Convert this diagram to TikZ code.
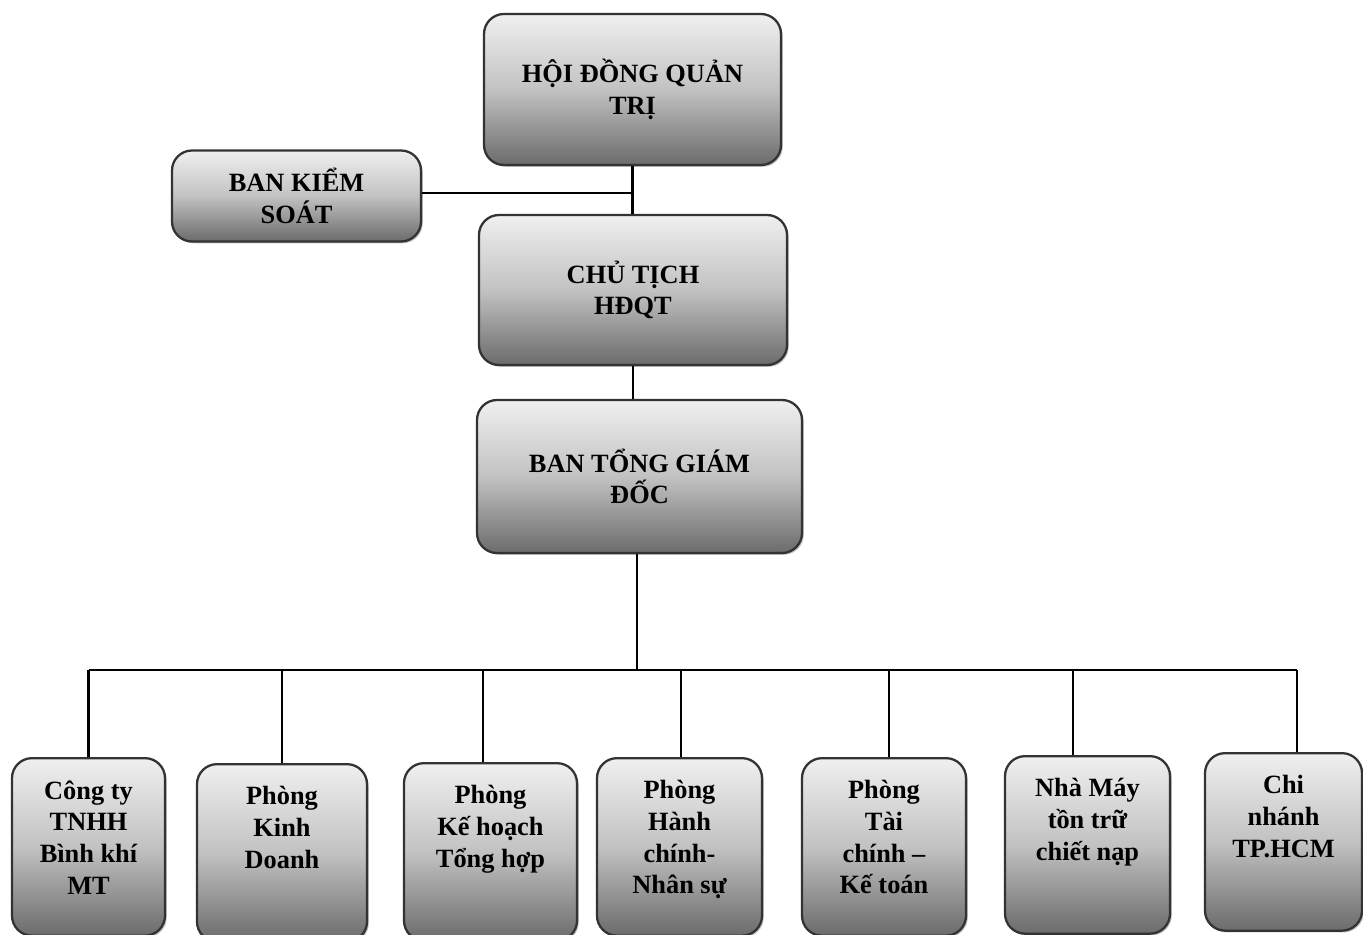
\documentclass[tikz,border=0pt]{standalone}
\usepackage{fontspec}
\setmainfont{Liberation Serif}
\usetikzlibrary{shadows}
\colorlet{box line}{black!80}
\tikzset{wire/.style={line width=1.4pt}}
\tikzset{box/.style={draw=box line, line width=1.3pt, rounded corners=0.4cm, top color=black!6, bottom color=black!58, middle color=black!24, drop shadow={shadow xshift=1pt, shadow yshift=-1pt, opacity=0.5}, font=\fontsize{15}{18}\selectfont\bfseries, align=center}}
\tikzset{unit/.style={box, anchor=north, inner xsep=0pt, inner ysep=0.45cm}}
\newcommand{\unittext}[1]{\parbox[t][2.65cm][t]{3cm}{\centering #1}}

\begin{document}
\begin{tikzpicture}
    \useasboundingbox (0,0) rectangle (27.26,-18.68);
    % upper levels
    \node[box, minimum width=5.94cm, minimum height=3.02cm] (hdqt) at (12.65,-1.79) {HỘI ĐỒNG QUẢN\\TRỊ};
    \node[box, minimum width=4.98cm, minimum height=1.82cm] (bks) at (5.93,-3.92) {BAN KIỂM\\SOÁT};
    \node[box, minimum width=6.16cm, minimum height=3.0cm] (ct) at (12.66,-5.80) {CHỦ TỊCH\\HĐQT};
    \node[box, minimum width=6.5cm, minimum height=3.06cm] (tgd) at (12.79,-9.53) {BAN TỔNG GIÁM\\ĐỐC};
    % units
    \node[unit, minimum width=3.06cm] (cty) at (1.77,-15.14) {\unittext{Công ty\\TNHH\\Bình khí\\MT}};
    \node[unit, minimum width=3.40cm] (pkd) at (5.64,-15.26) {\unittext{Phòng\\Kinh\\Doanh}};
    \node[unit, minimum width=3.46cm] (pkh) at (9.81,-15.24) {\unittext{Phòng\\Kế hoạch\\Tổng hợp}};
    \node[unit, minimum width=3.30cm] (phc) at (13.59,-15.14) {\unittext{Phòng\\Hành\\chính-\\Nhân sự}};
    \node[unit, minimum width=3.28cm] (ptc) at (17.68,-15.14) {\unittext{Phòng\\Tài\\chính --\\Kế toán}};
    \node[unit, minimum width=3.30cm] (nm) at (21.75,-15.10) {\unittext{Nhà Máy\\tồn trữ\\chiết nạp}};
    \node[unit, minimum width=3.14cm] (cn) at (25.67,-15.04) {\unittext{Chi\\nhánh\\TP.HCM}};
    % connectors
    \draw[wire] (hdqt.south) -- (hdqt.south |- ct.north);
    \draw[wire] ([yshift=0.06cm]bks.east) -- ([yshift=0.06cm]bks.east -| hdqt.south);
    \draw[wire] (ct.south) -- (ct.south |- tgd.north);
    \coordinate (bus) at (12.74,-13.4);
    \draw[wire] (tgd.south -| bus) -- (bus);
    \draw[wire] (cty.north |- bus) -- ([xshift=0.27cm]cn.north |- bus);
    \foreach \unit/\dx in {cty/0, pkd/0, pkh/-0.15, phc/0.03, ptc/0.1, nm/-0.29, cn/0.27}
        \draw[wire] ([xshift=\dx cm]\unit.north) -- ([xshift=\dx cm]\unit.north |- bus);
\end{tikzpicture}
\end{document}
